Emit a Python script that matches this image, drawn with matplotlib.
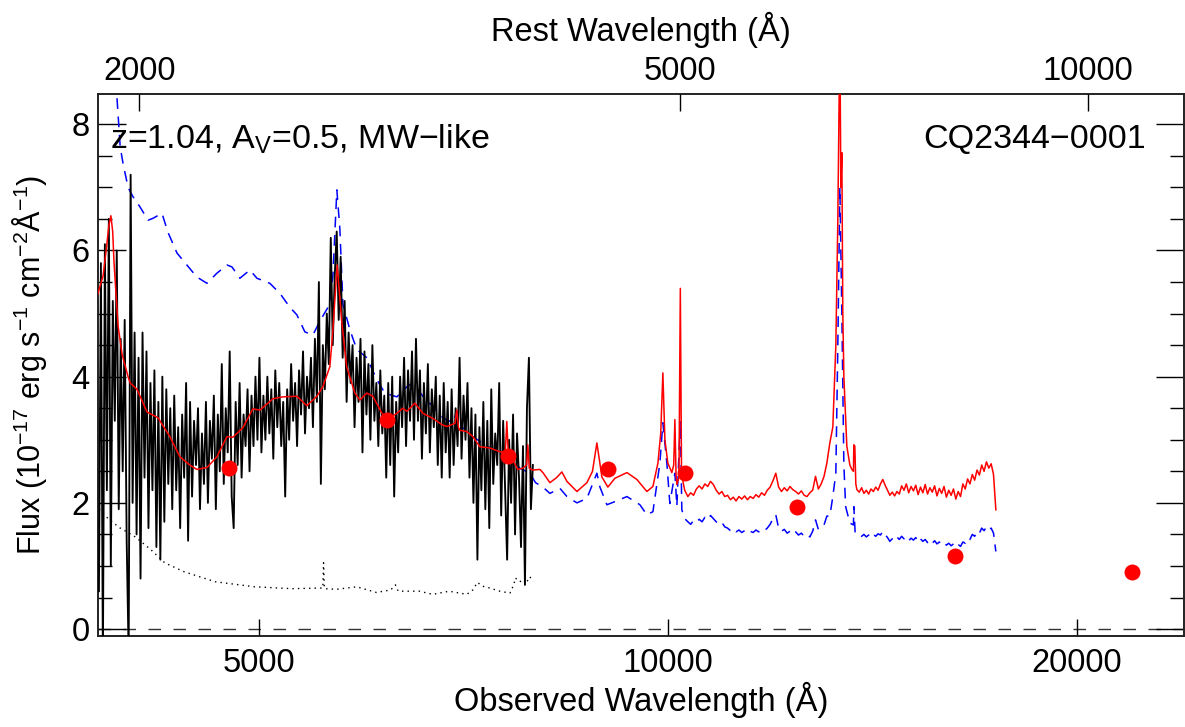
import numpy as np
import matplotlib
matplotlib.use("Agg")
import matplotlib.pyplot as plt
from matplotlib.ticker import FixedLocator, NullLocator, FixedFormatter, MultipleLocator

plt.rcParams['font.family'] = ['Liberation Sans', 'DejaVu Sans']
plt.rcParams['mathtext.fontset'] = 'custom'
plt.rcParams['mathtext.rm'] = 'Liberation Sans'
plt.rcParams['mathtext.it'] = 'Liberation Sans:italic'
plt.rcParams['mathtext.default'] = 'regular'

# ---------------- data ----------------
redshift = 1.04
obj_name = "CQ2344\u22120001"
label_text = "z=1.04, A$_V$=0.5, MW\u2212like"

xtick_obs = [5000, 10000, 20000]
xtick_rest = [2000, 5000, 10000]
ytick_vals = [0, 2, 4, 6, 8]

# observed optical spectrum (black), sampled on a log grid 3810-7954 A
obs_start, obs_end = 3810, 7954
obs_flux = [
    0.6, 5.8, -0.5, 6.1, 2.2, 6.5, 1.0, 5.2, 3.3, 6.0,
    1.9, 4.6, 2.5, 4.9, 1.4, -0.4, 7.2, 2.0, 4.7, 1.5,
    4.3, 0.8, 4.7, 2.4, 4.4, 1.6, 3.9, 2.2, 4.1, 1.3,
    3.6, 1.1, 4.0, 1.7, 3.8, 2.3, 3.5, 1.9, 3.7, 2.2,
    3.2, 1.6, 3.4, 2.4, 3.9, 1.4, 3.6, 2.1, 3.3, 2.6,
    3.5, 1.9, 3.1, 2.3, 3.6, 2.0, 3.3, 2.7, 3.7, 1.9,
    3.4, 2.5, 4.2, 2.3, 3.5, 2.8, 4.4, 2.1, 1.6, 3.6,
    2.6, 3.9, 2.4, 3.4, 2.9, 3.8, 2.5, 3.7, 2.9, 4.0,
    3.0, 4.3, 2.8, 3.7, 3.0, 4.0, 3.1, 3.8, 2.7, 4.1,
    3.2, 3.9, 2.9, 3.6, 2.1, 3.8, 3.0, 4.2, 3.3, 3.9,
    2.9, 4.1, 3.4, 4.4, 3.1, 4.0, 3.5, 4.3, 3.2, 4.6,
    3.6, 5.5, 2.3, 4.5, 3.8, 5.0, 4.2, 6.2, 4.5, 5.6,
    6.3, 4.9, 5.9, 4.3, 5.2, 3.6, 4.7, 3.9, 4.5, 3.2,
    4.3, 3.6, 4.6, 2.8, 4.4, 3.4, 4.2, 3.0, 4.5, 3.3,
    3.9, 2.9, 4.1, 3.1, 3.7, 2.4, 3.9, 2.6, 4.0, 2.1,
    3.6, 2.8, 4.0, 3.2, 4.3, 2.9, 4.1, 3.3, 4.4, 3.0,
    4.6, 3.3, 4.1, 2.7, 3.9, 3.1, 4.2, 2.8, 3.8, 3.2,
    4.0, 2.6, 3.7, 2.4, 3.9, 2.8, 3.6, 2.4, 3.8, 2.6,
    3.5, 2.9, 4.3, 2.7, 3.7, 3.0, 3.9, 2.4, 3.5, 2.0,
    3.4, 1.1, 3.2, 2.2, 3.6, 1.9, 3.3, 1.6, 3.8, 2.3,
    3.1, 2.6, 3.9, 1.8, 3.3, 2.2, 1.1, 3.0, 2.0, 3.4,
    1.5, 3.1, 2.4, 1.3, 2.9, 0.7, 3.5, 4.3, 1.9, 2.6,
]

# error spectrum (dotted)
err_wave = [3811, 3870, 3950, 4040, 4085, 4160, 4260, 4400, 4640, 4960,
            5290, 5540, 5570, 5577, 5585, 5700, 5900, 6100, 6250, 6300,
            6330, 6560, 6712, 6900, 7111, 7184, 7240, 7300, 7394, 7520,
            7650, 7700, 7720, 7780, 7819, 7860, 7913, 7954]
err_flux = [1.9, 1.75, 1.6, 1.48, 1.4, 1.26, 1.05, 0.91, 0.75, 0.67,
            0.64, 0.65, 0.65, 1.05, 0.64, 0.63, 0.67, 0.58, 0.62, 0.70,
            0.60, 0.60, 0.55, 0.60, 0.55, 0.62, 0.74, 0.68, 0.65, 0.60,
            0.57, 0.70, 0.81, 0.75, 0.78, 0.72, 0.83, 0.75]

# reddened composite model (red): blue part up to [OIII]
red_wave_a = [3798, 3837, 3857, 3875, 3888, 3900, 3909, 3936, 3963, 4003,
              4017, 4064, 4134, 4211, 4297, 4371, 4445, 4498, 4576, 4654,
              4734, 4782, 4863, 4947, 5006, 5118, 5205, 5330, 5421, 5477,
              5514, 5570, 5637, 5666, 5707, 5750, 5799, 5881, 5931, 6002,
              6063, 6157, 6219, 6315, 6380, 6423, 6511, 6600, 6712, 6816,
              6874, 6932, 6970, 6991, 7010, 7027, 7111, 7184, 7269, 7394,
              7520, 7590, 7610, 7630, 7688, 7753, 7819, 7870, 7886, 7905,
              7954, 8049, 8090, 8187, 8280, 8355, 8427, 8571, 8717, 8800,
              8866, 8942, 9033, 9141, 9330, 9489, 9651, 9750, 9833, 9880,
              9916, 9950, 10000, 10068, 10100, 10120, 10140, 10154, 10190, 10214,
              10235, 10290]
red_flux_a = [5.27, 5.6, 6.0, 6.4, 6.55, 6.3, 5.8, 4.8, 4.35, 4.0,
              3.9, 3.8, 3.44, 3.35, 3.05, 2.73, 2.6, 2.53, 2.56, 2.73,
              3.05, 3.04, 3.19, 3.49, 3.47, 3.65, 3.68, 3.69, 3.54, 3.63,
              3.69, 3.84, 4.16, 4.74, 5.77, 4.9, 4.16, 3.74, 3.63, 3.74,
              3.69, 3.42, 3.32, 3.42, 3.5, 3.45, 3.58, 3.42, 3.34, 3.24,
              3.21, 3.24, 3.26, 3.47, 3.2, 3.15, 3.13, 3.05, 2.89, 2.87,
              2.81, 2.80, 3.29, 2.75, 2.68, 2.53, 2.55, 2.6, 2.92, 2.55,
              2.52, 2.53, 2.48, 2.32, 2.4, 2.49, 2.34, 2.18, 2.32, 2.5,
              2.95, 2.41, 2.25, 2.39, 2.48, 2.37, 2.18, 2.26, 2.63, 3.1,
              4.06, 3.0, 2.63, 2.48, 2.6, 3.32, 2.45, 2.29, 2.4, 5.4,
              2.45, 2.2]
# mid section (log grid 10345-13096 A), red and blue
mid_start, mid_end = 10345, 13096
red_mid = [2.10, 2.16, 2.12, 2.22, 2.27, 2.22, 2.30, 2.26, 2.34, 2.29,
           2.20, 2.14, 2.18, 2.10, 2.12, 2.05, 2.09, 2.03, 2.10, 2.06,
           2.11, 2.05, 2.10, 2.07, 2.13, 2.09, 2.16, 2.12, 2.20, 2.25,
           2.35, 2.47, 2.25, 2.18, 2.24, 2.19, 2.26, 2.21, 2.18, 2.14,
           2.19, 2.12, 2.10, 2.16, 2.20, 2.42, 2.22, 2.30, 2.42, 2.63]
blue_mid = [1.70, 1.66, 1.72, 1.69, 1.74, 1.70, 1.77, 1.73, 1.80, 1.75,
            1.70, 1.66, 1.69, 1.62, 1.60, 1.56, 1.59, 1.54, 1.57, 1.53,
            1.56, 1.52, 1.55, 1.53, 1.57, 1.54, 1.58, 1.56, 1.60, 1.66,
            1.75, 1.81, 1.60, 1.55, 1.58, 1.52, 1.55, 1.50, 1.54, 1.49,
            1.52, 1.47, 1.50, 1.46, 1.55, 1.73, 1.58, 1.60, 1.65, 1.79]
# H-alpha region
red_wave_b = [13162, 13229, 13297, 13342, 13388, 13410, 13433, 13455, 13479, 13547,
              13617, 13663, 13700, 13709, 13732, 13755]
red_flux_b = [2.95, 3.2, 4.5, 6.5, 9.5, 7.0, 7.55, 5.0, 4.0, 2.9,
              2.6, 2.53, 2.5, 2.92, 2.9, 2.3]

# unreddened composite (blue dashed)
blue_wave_a = [3798, 3870, 3920, 3929, 3950, 3969, 4003, 4037, 4085, 4141,
               4176, 4240, 4283, 4349, 4423, 4498, 4576, 4654, 4734, 4774,
               4839, 4922, 4981, 5091, 5179, 5267, 5330, 5403, 5477, 5542,
               5637, 5666, 5704, 5733, 5763, 5832, 5901, 6002, 6105, 6188,
               6315, 6423, 6488, 6600, 6712, 6827, 6944, 6991, 7063, 7184,
               7356, 7482, 7649, 7780, 7913, 7990, 8090, 8187, 8327, 8427,
               8571, 8717, 8866, 8912, 9018, 9141, 9330, 9537, 9651, 9750,
               9866, 9916, 9983, 10034, 10120, 10154, 10214, 10240, 10290]
blue_flux_a = [9.2, 9.0, 8.6, 8.4, 7.64, 7.38, 7.0, 6.85, 6.69, 6.48,
               6.51, 6.59, 6.29, 5.96, 5.77, 5.58, 5.48, 5.64, 5.77, 5.74,
               5.56, 5.69, 5.56, 5.48, 5.32, 5.1, 4.98, 4.71, 4.66, 4.88,
               5.15, 5.6, 6.96, 6.35, 5.15, 4.74, 4.43, 4.3, 3.95, 3.74,
               3.68, 3.84, 3.9, 3.69, 3.53, 3.35, 3.27, 3.45, 3.19, 3.05,
               2.9, 2.81, 2.73, 2.55, 2.47, 2.32, 2.25, 2.15, 2.23, 2.1,
               2.0, 2.07, 2.47, 2.25, 1.97, 2.02, 2.1, 1.97, 1.81, 1.86,
               2.63, 3.27, 2.63, 1.99, 2.47, 1.95, 3.3, 1.89, 1.75]
blue_wave_b = [13162, 13229, 13297, 13342, 13388, 13433, 13479, 13520, 13617, 13700,
               13709, 13740]
blue_flux_b = [1.79, 2.1, 2.47, 4.5, 7.0, 5.0, 2.6, 1.94, 1.68, 1.65,
               1.94, 1.52]

# near-IR parts of both composites, log grid 13780-17443 A
nir_start, nir_end = 13780, 17443
red_nir = [2.21, 2.17, 2.24, 2.15, 2.20, 2.14, 2.22, 2.18, 2.25, 2.20,
           2.30, 2.37, 2.28, 2.20, 2.12, 2.17, 2.11, 2.18, 2.14, 2.27,
           2.20, 2.30, 2.16, 2.26, 2.19, 2.28, 2.13, 2.25, 2.16, 2.29,
           2.14, 2.24, 2.17, 2.27, 2.11, 2.23, 2.15, 2.26, 2.09, 2.20,
           2.12, 2.22, 2.06, 2.18, 2.10, 2.30, 2.22, 2.38, 2.30, 2.45,
           2.36, 2.52, 2.44, 2.60, 2.50, 2.65, 2.55, 2.62, 2.45, 1.89]
blue_nir = [1.52, 1.50, 1.47, 1.50, 1.46, 1.49, 1.45, 1.50, 1.47, 1.51,
            1.49, 1.55, 1.50, 1.45, 1.39, 1.43, 1.40, 1.46, 1.42, 1.47,
            1.43, 1.46, 1.40, 1.44, 1.41, 1.45, 1.38, 1.43, 1.39, 1.42,
            1.37, 1.41, 1.36, 1.40, 1.35, 1.38, 1.34, 1.37, 1.33, 1.36,
            1.32, 1.35, 1.30, 1.34, 1.31, 1.38, 1.36, 1.44, 1.42, 1.50,
            1.47, 1.55, 1.52, 1.60, 1.56, 1.62, 1.57, 1.60, 1.52, 1.23]

# photometry (red circles)
phot_wave = [4750, 6210, 7620, 9030, 10290, 12450, 16270, 21960]
phot_flux = [2.56, 3.31, 2.74, 2.54, 2.48, 1.94, 1.15, 0.90]

# ---------------- figure ----------------
W, H = 1185, 727
fig = plt.figure(figsize=(W / 100, H / 100), dpi=100)
L, R, T, B = 98, 1184, 94, 636
ax = fig.add_axes([L / W, 1 - B / H, (R - L) / W, (B - T) / H])

obs_wave = np.geomspace(obs_start, obs_end, len(obs_flux))
mid_wave = np.geomspace(mid_start, mid_end, len(red_mid))
nir_wave = np.geomspace(nir_start, nir_end, len(red_nir))

red_w = np.concatenate([red_wave_a, mid_wave, red_wave_b, nir_wave])
red_f = np.concatenate([red_flux_a, red_mid, red_flux_b, red_nir])
blue_w = np.concatenate([blue_wave_a, mid_wave, blue_wave_b, nir_wave])
blue_f = np.concatenate([blue_flux_a, blue_mid, blue_flux_b, blue_nir])

ax.axhline(0, color='#333333', lw=1.0, dashes=(9, 9), zorder=1)
ax.plot(blue_w, blue_f, color='#0000ff', lw=1.1, dashes=(7, 5), zorder=2)
ax.plot(obs_wave, obs_flux, color='black', lw=1.35, zorder=3)
ax.plot(err_wave, err_flux, color='black', lw=1.0, dashes=(1, 3), zorder=3)
ax.plot(red_w, red_f, color='#ff0000', lw=1.1, zorder=4)
ax.plot(phot_wave, phot_flux, 'o', color='#ff0000', ms=11.5, mec='none', zorder=5)

ax.set_xscale('log')
ax.set_xlim(3804, 24000)
ax.set_ylim(-0.11, 8.48)

fs = 23.5
ax.xaxis.set_major_locator(FixedLocator(xtick_obs))
ax.xaxis.set_major_formatter(FixedFormatter([str(v) for v in xtick_obs]))
ax.xaxis.set_minor_locator(NullLocator())
ax.yaxis.set_major_locator(FixedLocator(ytick_vals))
ax.yaxis.set_major_formatter(FixedFormatter([str(v) for v in ytick_vals]))
ax.yaxis.set_minor_locator(MultipleLocator(0.5))
ax.tick_params(axis='x', which='major', direction='in', length=12, width=1.0,
               top=True, bottom=True, labelsize=fs, pad=9)
ax.tick_params(axis='y', which='major', direction='in', length=20, width=1.0,
               left=True, right=True, labelsize=fs, pad=6)
ax.tick_params(axis='y', which='minor', direction='in', length=10, width=1.0,
               left=True, right=True)
for s in ax.spines.values():
    s.set_linewidth(1.4)
    s.set_color('#222222')

ax2 = ax.twiny()
ax2.set_xscale('log')
ax2.set_xlim(3804 / (1 + redshift), 24000 / (1 + redshift))
ax2.xaxis.set_major_locator(FixedLocator(xtick_rest))
ax2.xaxis.set_major_formatter(FixedFormatter([str(v) for v in xtick_rest]))
ax2.xaxis.set_minor_locator(NullLocator())
ax2.tick_params(axis='x', which='major', direction='in', length=12, width=1.0,
                labelsize=fs, pad=5)
for s in ax2.spines.values():
    s.set_visible(False)

ax.text(0.011, 0.900, label_text, transform=ax.transAxes, fontsize=24.5,
        ha='left', va='baseline')
ax.text(0.965, 0.900, obj_name, transform=ax.transAxes, fontsize=24.5,
        ha='right', va='baseline')

fig.text(0.5 * (L + R) / W, 1 - 700 / H, "Observed Wavelength (\u00c5)",
         fontsize=fs, ha='center', va='center')
fig.text(0.5 * (L + R) / W, 1 - 30 / H, "Rest Wavelength (\u00c5)",
         fontsize=fs, ha='center', va='center')
fig.text(30 / W, 1 - 365 / H,
         "Flux (10$^{-17}$ erg s$^{-1}$ cm$^{-2}$\u00c5$^{-1}$)",
         fontsize=22, rotation=90, ha='center', va='center')

fig.savefig("out.png", dpi=100)
